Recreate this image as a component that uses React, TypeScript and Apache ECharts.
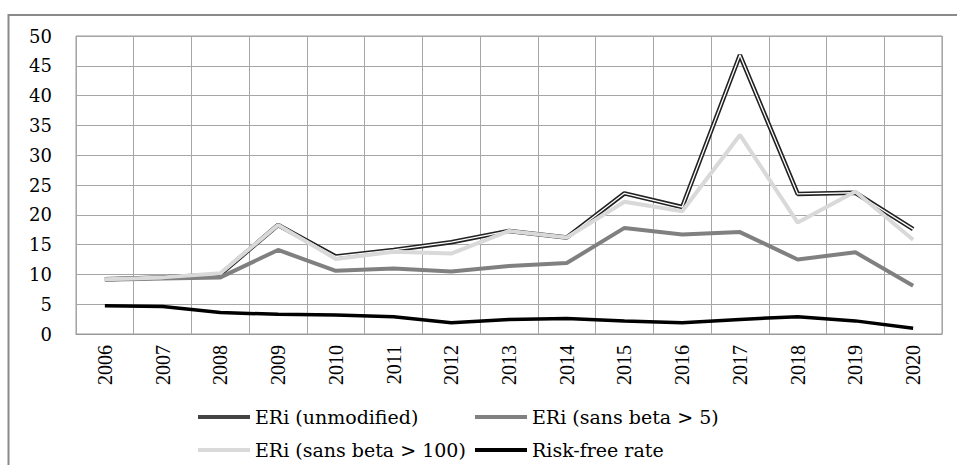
import React, { useEffect, useRef } from "react";
import * as echarts from "echarts";

const years = ["2006","2007","2008","2009","2010","2011","2012","2013","2014","2015","2016","2017","2018","2019","2020"];
const eriUnmodified = [9.2, 9.5, 10.0, 18.3, 13.0, 14.1, 15.4, 17.3, 16.2, 23.6, 21.3, 46.8, 23.5, 23.7, 17.6];
const eriSans5 = [9.1, 9.3, 9.5, 14.1, 10.6, 11.0, 10.5, 11.4, 11.9, 17.8, 16.7, 17.1, 12.5, 13.7, 8.1];
const eriSans100 = [9.2, 9.5, 10.2, 18.3, 12.6, 13.8, 13.5, 17.3, 16.2, 22.2, 20.6, 33.4, 18.7, 23.9, 15.8];
const riskFree = [4.75, 4.6, 3.6, 3.3, 3.2, 2.9, 1.9, 2.45, 2.6, 2.2, 1.9, 2.45, 2.9, 2.2, 0.95];
const yTicks = { min: 0, max: 50, interval: 5 };

const N1 = "ERi (unmodified)";
const N2 = "ERi (sans beta > 5)";
const N3 = "ERi (sans beta > 100)";
const N4 = "Risk-free rate";

export default function App() {
  const ref = useRef<HTMLDivElement>(null);
  useEffect(() => {
    if (!ref.current) return;
    const chart = echarts.init(ref.current, null, { renderer: "svg" });
    const legendText = { fontFamily: "DejaVu Serif", fontSize: 19, color: "#000", lineHeight: 20 };
    const legendBase = {
      orient: "vertical", top: 407, height: 60, padding: 0, itemWidth: 52, itemHeight: 4, itemGap: 13,
      icon: "rect", textStyle: legendText, selectedMode: false,
    };
    chart.setOption({
      animation: false,
      backgroundColor: "#fff",
      grid: { left: 76, top: 36, right: 15, bottom: 131, show: true, borderColor: "#999", borderWidth: 1 },
      xAxis: {
        type: "category",
        data: years,
        boundaryGap: true,
        axisLine: { show: true, lineStyle: { color: "#999", width: 1 } },
        axisTick: { show: false },
        splitLine: { show: true, interval: 0, lineStyle: { color: "#a6a6a6", width: 1 } },
        axisLabel: { rotate: 90, interval: 0, margin: 11, color: "#000", fontFamily: "Liberation Serif", fontSize: 20 },
      },
      yAxis: {
        type: "value",
        min: yTicks.min,
        max: yTicks.max,
        interval: yTicks.interval,
        axisLine: { show: false },
        axisTick: { show: false },
        splitLine: { show: true, lineStyle: { color: "#a6a6a6", width: 1 } },
        axisLabel: { margin: 24, color: "#000", fontFamily: "DejaVu Serif", fontSize: 18 },
      },
      legend: [
        { ...legendBase, left: 198, data: [N1, N3] },
        { ...legendBase, left: 475, data: [N2, N4] },
      ],
      graphic: [
        {
          type: "rect",
          shape: { x: 8.5, y: 15, width: 970, height: 470 },
          style: { fill: "none", stroke: "#8a8a8a", lineWidth: 2 },
          silent: true,
        },
      ],
      series: [
        {
          name: N1, type: "line", data: eriUnmodified, symbol: "none",
          lineStyle: { color: "#222", width: 4.5 }, itemStyle: { color: "#444" },
        },
        {
          name: "inner", type: "line", data: eriUnmodified, symbol: "none",
          lineStyle: { color: "#fff", width: 1.3 }, itemStyle: { color: "#fff" },
        },
        {
          name: N2, type: "line", data: eriSans5, symbol: "none",
          lineStyle: { color: "#808080", width: 4 }, itemStyle: { color: "#808080" },
        },
        {
          name: N3, type: "line", data: eriSans100, symbol: "none",
          lineStyle: { color: "#d9d9d9", width: 4 }, itemStyle: { color: "#d9d9d9" },
        },
        {
          name: N4, type: "line", data: riskFree, symbol: "none",
          lineStyle: { color: "#000", width: 3.5 }, itemStyle: { color: "#000" },
        },
      ],
    });
    return () => chart.dispose();
  }, []);
  return <div ref={ref} style={{ position: "fixed", left: 0, top: 0, width: 957, height: 465 }} />;
}
